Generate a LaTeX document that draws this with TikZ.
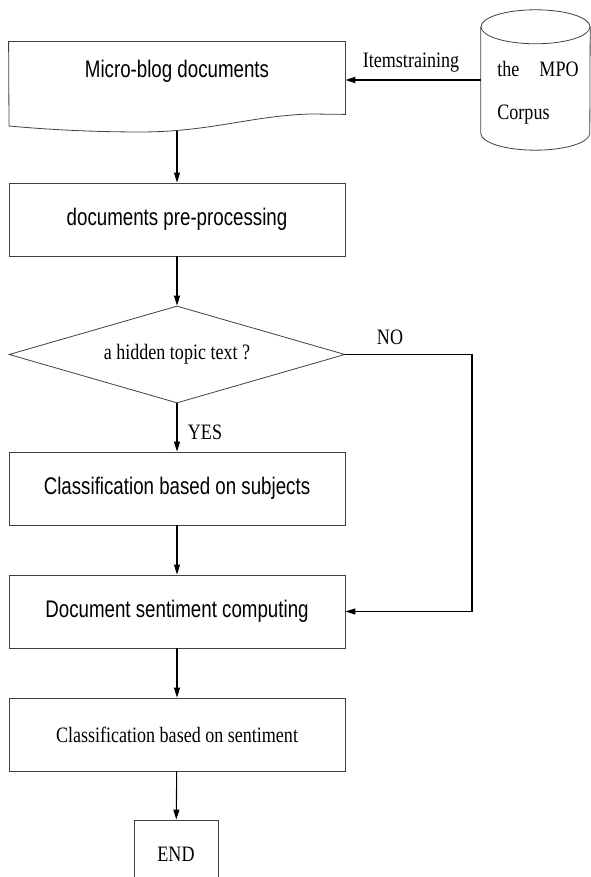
\documentclass[tikz,border=0pt]{standalone}
\usepackage{fontspec}
\newfontfamily\flowsans[FakeStretch=0.78]{Liberation Sans}
\newfontfamily\flowserif[FakeStretch=0.82]{Liberation Serif}
\usetikzlibrary{shapes.geometric,arrows.meta}

\begin{document}
\begin{tikzpicture}[x=1pt, y=1pt, >={Triangle[length=10pt,width=6pt]},
  box/.style={draw=black!75, line width=0.8pt, minimum width=336pt, minimum height=73pt, inner sep=0pt, font=\flowsans\fontsize{24}{28}\selectfont},
  lbl/.style={inner sep=0pt, font=\flowserif\fontsize{22}{26}\selectfont},
  flow/.style={->, line width=1.1pt}]
\useasboundingbox (0,0) rectangle (590,877);

\node[box, draw=none, minimum height=72pt] (blog) at (177,799) {};
\node[font=\flowsans\fontsize{24}{28}\selectfont] (blogtxt) at ([yshift=7pt]blog.center) {Micro-blog documents};
\draw[black!75, line width=0.8pt] (blog.north west) -- (blog.north east) -- (blog.south east) -- (310,763) .. controls (250,761) and (210,745) .. (140,745) .. controls (80,745) and (30,749) .. (9,751) -- cycle;
\coordinate (blogbot) at (177,746);

% cylinder drawn by hand round the node
\node[minimum width=109pt, minimum height=106pt, inner sep=0pt] (corpus) at (535.5,797) {};
\draw[black!75, line width=0.8pt] (corpus.north west) -- (corpus.south west) arc[start angle=180, end angle=360, x radius=54.5pt, y radius=17pt] -- (corpus.north east);
\draw[black!75, line width=0.8pt] (corpus.north) ellipse [x radius=54.5pt, y radius=17pt];
\node[lbl, align=left, font=\flowserif\fontsize{22}{43}\selectfont] (corpustxt) at (538,784) {the\hspace{20pt}MPO\\Corpus};

\node[box] (prep) at (177,657.5) {documents pre-processing};
\node[diamond, aspect=3.46, draw=black!75, line width=0.8pt, minimum width=336pt, minimum height=97pt, inner sep=0pt, font=\flowserif\fontsize{22}{26}\selectfont] (hidden) at (177,522.5) {a hidden topic text ?};
\node[box] (subj) at (177,388.5) {Classification based on subjects};
\node[box] (senti) at (177,265.5) {Document sentiment computing};
\node[box, font=\flowserif\fontsize{22}{26}\selectfont] (cls) at (177,142.5) {Classification based on sentiment};
\node[box, font=\flowserif\fontsize{22}{26}\selectfont, minimum width=84pt, minimum height=68pt] (end) at (176,23) {END};

\draw[flow, line width=1.6pt] (corpus.west) -- (corpus.west -| blog.east);
\draw[flow] (blogbot) -- (prep);
\draw[flow] (prep) -- (hidden);
\draw[flow] (hidden) -- (subj);
\draw[flow] (subj) -- (senti);
\draw[flow] (senti) -- (cls);
\draw[flow] (cls) -- (end);

\coordinate (noturn) at (472,522.5);
\draw[flow] (hidden.east) -- (noturn) |- (senti.east);

\node[lbl] (items) at (411,814) {Itemstraining};
\node[lbl] (no) at (390,540) {NO};
\node[lbl] (yes) at (205,445) {YES};
\end{tikzpicture}
\end{document}
